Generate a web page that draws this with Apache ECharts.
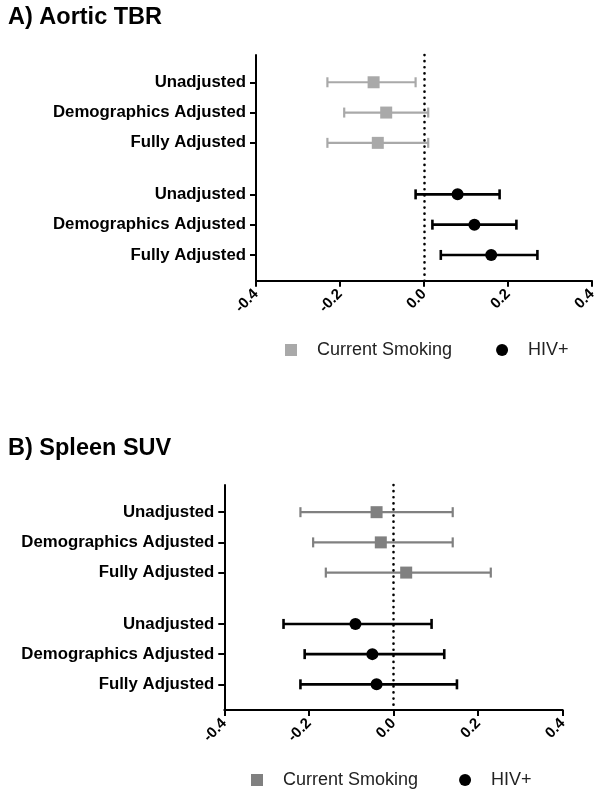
<!DOCTYPE html>
<html>
<head>
<meta charset="utf-8">
<script src="https://cdn.jsdelivr.net/npm/echarts@6/dist/echarts.min.js"></script>
<style>
html,body{margin:0;padding:0;background:#fff;}
#chart{width:604px;height:799px;}
</style>
</head>
<body>
<div id="chart"></div>
<script>
// ---- Data ----
var rowLabels = ['Unadjusted', 'Demographics Adjusted', 'Fully Adjusted', 'Unadjusted', 'Demographics Adjusted', 'Fully Adjusted'];
var rowPos = [1, 2, 3, 4.7, 5.7, 6.7];
var xTicks = [-0.4, -0.2, 0.0, 0.2, 0.4];

// Panel A: Aortic TBR  [estimate, lower, upper]
var aorticSmoking = [[-0.12, -0.23, -0.02], [-0.09, -0.19, 0.01], [-0.11, -0.23, 0.01]];
var aorticHIV = [[0.08, -0.02, 0.18], [0.12, 0.02, 0.22], [0.16, 0.04, 0.27]];
// Panel B: Spleen SUV
var spleenSmoking = [[-0.04, -0.22, 0.14], [-0.03, -0.19, 0.14], [0.03, -0.16, 0.23]];
var spleenHIV = [[-0.09, -0.26, 0.09], [-0.05, -0.21, 0.12], [-0.04, -0.22, 0.15]];

var FONT = 'Liberation Sans, Arial, Helvetica, sans-serif';
var lightGray = '#a9a9a9';
var darkGray = '#808080';

function pts(arr, offset) {
  return arr.map(function (d, i) { return [d[0], rowPos[i + offset]]; });
}
function bars(arr, offset) {
  return arr.map(function (d, i) { return [d[1], d[2], rowPos[i + offset]]; });
}
function labelFor(v) {
  for (var i = 0; i < rowPos.length; i++) {
    if (Math.abs(rowPos[i] - v) < 1e-6) return rowLabels[i];
  }
  return '';
}
function errRender(color, w) {
  return function (params, api) {
    var p1 = api.coord([api.value(0), api.value(2)]);
    var p2 = api.coord([api.value(1), api.value(2)]);
    var h = 5;
    var st = { stroke: color, lineWidth: w };
    return {
      type: 'group',
      children: [
        { type: 'line', shape: { x1: p1[0], y1: p1[1], x2: p2[0], y2: p2[1] }, style: st },
        { type: 'line', shape: { x1: p1[0], y1: p1[1] - h, x2: p1[0], y2: p1[1] + h }, style: st },
        { type: 'line', shape: { x1: p2[0], y1: p2[1] - h, x2: p2[0], y2: p2[1] + h }, style: st }
      ]
    };
  };
}

function xAxisDef(gi) {
  return {
    gridIndex: gi, type: 'value', min: -0.4, max: 0.4, interval: 0.2,
    axisLine: { show: true, onZero: false, lineStyle: { color: '#000', width: 2 } },
    axisTick: { show: true, length: 6, lineStyle: { color: '#000', width: 2 } },
    splitLine: { show: false },
    axisLabel: {
      rotate: 45, margin: 11, color: '#000', fontFamily: FONT, fontWeight: 'bold', fontSize: 15,
      customValues: xTicks,
      formatter: function (v) { return v.toFixed(1); }
    }
  };
}
function yAxisDef(gi) {
  return {
    gridIndex: gi, type: 'value', min: 0.1, max: 7.55, inverse: true,
    axisLine: { show: true, onZero: false, lineStyle: { color: '#000', width: 2 } },
    axisTick: { show: true, length: 6, customValues: rowPos, lineStyle: { color: '#000', width: 2 } },
    splitLine: { show: false },
    axisLabel: {
      margin: 10, color: '#000', fontFamily: FONT, fontWeight: 'bold', fontSize: 16.8,
      customValues: rowPos,
      formatter: function (v) { return labelFor(v); }
    }
  };
}

var zeroLine = {
  silent: true, symbol: 'none', label: { show: false },
  lineStyle: { color: '#000', width: 2.6, type: [0.1, 6], cap: 'round' },
  data: [{ xAxis: 0 }]
};

var option = {
  backgroundColor: '#fff',
  animation: false,
  title: [
    { text: 'A) Aortic TBR', left: 8, top: 6, padding: 0,
      textStyle: { fontFamily: FONT, fontWeight: 'bold', fontSize: 23.5, color: '#000' } },
    { text: 'B) Spleen SUV', left: 8, top: 437, padding: 0,
      textStyle: { fontFamily: FONT, fontWeight: 'bold', fontSize: 23.5, color: '#000' } }
  ],
  legend: [
    { left: 285, top: 341, padding: 0, itemWidth: 12, itemHeight: 12, itemGap: 44,
      textStyle: { fontFamily: FONT, fontSize: 18, color: '#222', padding: [0, 0, 0, 15] },
      data: [
        { name: 'Current Smoking', icon: 'rect', itemStyle: { color: lightGray } },
        { name: 'HIV+', icon: 'circle', itemStyle: { color: '#000' } }
      ] },
    { left: 251, top: 771, padding: 0, itemWidth: 12, itemHeight: 12, itemGap: 41,
      textStyle: { fontFamily: FONT, fontSize: 18, color: '#222', padding: [0, 0, 0, 15] },
      data: [
        { name: 'Current Smoking', icon: 'rect', itemStyle: { color: darkGray } },
        { name: 'HIV+', icon: 'circle', itemStyle: { color: '#000' } }
      ] }
  ],
  grid: [
    { left: 256, right: 12, top: 55, height: 225.7 },
    { left: 224.3, right: 41.3, top: 485, height: 225 }
  ],
  xAxis: [xAxisDef(0), xAxisDef(1)],
  yAxis: [yAxisDef(0), yAxisDef(1)],
  series: [
    { type: 'custom', name: 'smokingCI_A', xAxisIndex: 0, yAxisIndex: 0, z: 2,
      renderItem: errRender(lightGray, 2.2), encode: { x: [0, 1], y: 2 }, data: bars(aorticSmoking, 0) },
    { type: 'custom', name: 'hivCI_A', xAxisIndex: 0, yAxisIndex: 0, z: 2,
      renderItem: errRender('#000', 2.6), encode: { x: [0, 1], y: 2 }, data: bars(aorticHIV, 3) },
    { type: 'scatter', name: 'Current Smoking', xAxisIndex: 0, yAxisIndex: 0, z: 3,
      symbol: 'rect', symbolSize: 12, itemStyle: { color: lightGray, opacity: 1 },
      data: pts(aorticSmoking, 0), markLine: zeroLine },
    { type: 'scatter', name: 'HIV+', xAxisIndex: 0, yAxisIndex: 0, z: 3,
      symbol: 'circle', symbolSize: 12, itemStyle: { color: '#000', opacity: 1 },
      data: pts(aorticHIV, 3) },

    { type: 'custom', name: 'smokingCI_B', xAxisIndex: 1, yAxisIndex: 1, z: 2,
      renderItem: errRender(darkGray, 2.2), encode: { x: [0, 1], y: 2 }, data: bars(spleenSmoking, 0) },
    { type: 'custom', name: 'hivCI_B', xAxisIndex: 1, yAxisIndex: 1, z: 2,
      renderItem: errRender('#000', 2.6), encode: { x: [0, 1], y: 2 }, data: bars(spleenHIV, 3) },
    { type: 'scatter', name: 'Current Smoking', xAxisIndex: 1, yAxisIndex: 1, z: 3,
      symbol: 'rect', symbolSize: 12, itemStyle: { color: darkGray, opacity: 1 },
      data: pts(spleenSmoking, 0), markLine: zeroLine },
    { type: 'scatter', name: 'HIV+', xAxisIndex: 1, yAxisIndex: 1, z: 3,
      symbol: 'circle', symbolSize: 12, itemStyle: { color: '#000', opacity: 1 },
      data: pts(spleenHIV, 3) }
  ]
};

var chart = echarts.init(document.getElementById('chart'), null, { renderer: 'canvas' });
chart.setOption(option);
</script>
</body>
</html>
